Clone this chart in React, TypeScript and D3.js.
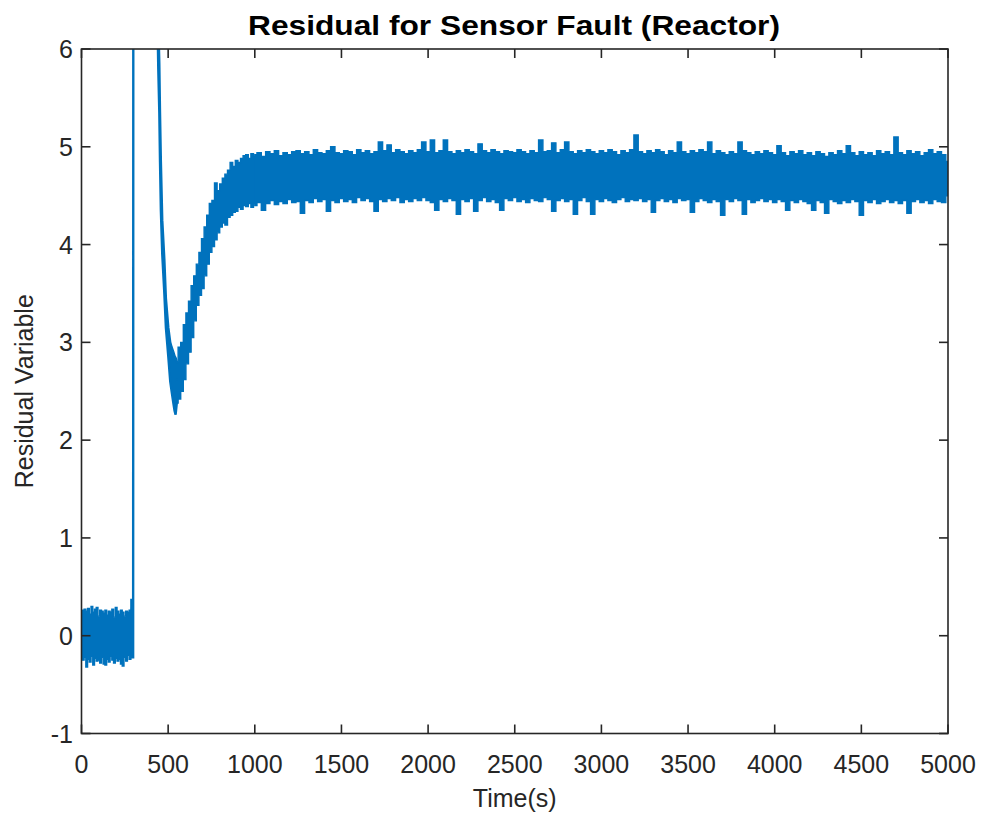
import React from "react";
import * as d3 from "d3";

const W = 983;
const H = 819;
const LINE = "#0072BD";
const AXIS = "#262626";
const FONT = "'Liberation Sans', Arial, Helvetica, sans-serif";

const titleText = "Residual for Sensor Fault (Reactor)";
const xLabel = "Time(s)";
const yLabel = "Residual Variable";
const xTicks = [0, 500, 1000, 1500, 2000, 2500, 3000, 3500, 4000, 4500, 5000];
const yTicks = [-1, 0, 1, 2, 3, 4, 5, 6];

// Segment A: pre-fault noise (0–290 s, every 10 s) — envelope
const noiseTime = [0, 10, 20, 30, 40, 50, 60, 70, 80, 90, 100, 110, 120, 130, 140, 150, 160, 170, 180, 190, 200, 210, 220, 230, 240, 250, 260, 270, 280, 290];
const noiseUpper = [0.08, 0.26, 0.27, 0.25, 0.28, 0.22, 0.3, 0.24, 0.27, 0.29, 0.2, 0.26, 0.25, 0.23, 0.26, 0.21, 0.25, 0.24, 0.27, 0.19, 0.29, 0.25, 0.22, 0.26, 0.24, 0.2, 0.25, 0.24, 0.26, 0.37];
const noiseLower = [-0.12, -0.25, -0.22, -0.32, -0.24, -0.27, -0.21, -0.3, -0.23, -0.26, -0.25, -0.28, -0.22, -0.29, -0.3, -0.24, -0.27, -0.21, -0.25, -0.28, -0.23, -0.26, -0.24, -0.29, -0.31, -0.22, -0.26, -0.2, -0.24, -0.22];

// Segment B: fault spike, descent and valley
const transTime = [290, 298, 300, 370, 443, 449, 453, 458, 466, 478, 487, 501, 512, 520, 530, 537, 543, 550];
const transUpper = [0.26, 0.37, 14, 14, 6.3, 5.85, 5.35, 4.85, 4.25, 3.85, 3.45, 3.15, 3.0, 2.95, 2.9, 2.86, 2.84, 2.8];
const transLower = [-0.22, -0.22, 13.8, 13.8, 5.8, 5.35, 4.85, 4.35, 3.9, 3.5, 3.15, 2.85, 2.6, 2.5, 2.38, 2.3, 2.26, 2.38];

// Segment C: recovery (550–1000 s, every 15 s)
const riseTime = [550, 565, 580, 595, 610, 625, 640, 655, 670, 685, 700, 715, 730, 745, 760, 775, 790, 805, 820, 835, 850, 865, 880, 895, 910, 925, 940, 955, 970, 985, 1000];
const riseUpper = [2.8, 2.95, 3.0, 3.18, 3.3, 3.42, 3.58, 3.68, 3.8, 3.92, 4.06, 4.18, 4.3, 4.42, 4.45, 4.63, 4.55, 4.62, 4.68, 4.72, 4.76, 4.84, 4.8, 4.86, 4.84, 4.88, 4.91, 4.92, 4.88, 4.93, 4.9];
const riseLower = [2.38, 2.42, 2.5, 2.62, 2.78, 2.9, 3.05, 3.22, 3.38, 3.48, 3.55, 3.68, 3.8, 3.92, 3.98, 4.05, 4.12, 4.18, 4.22, 4.2, 4.28, 4.3, 4.33, 4.34, 4.38, 4.36, 4.4, 4.39, 4.42, 4.38, 4.42];

// Segment D: steady state (1000–5000 s, every 25 s)
const steadyTime = d3.range(1000, 5001, 25);
const steadyUpper = [
  4.92, 4.94, 4.9, 4.95, 4.93, 4.96, 4.91, 4.94, 4.92, 4.95,
  4.96, 4.93, 4.95, 4.92, 4.97, 4.94, 4.93, 4.96, 5.0, 4.94,
  4.93, 4.96, 4.95, 4.92, 4.97, 4.94, 4.96, 4.93, 4.95, 5.05,
  4.96, 5.02, 4.94, 4.97, 4.95, 4.93, 4.96, 4.94, 4.97, 5.05,
  4.95, 5.07, 4.94, 4.96, 5.07, 4.95, 4.93, 4.96, 4.94, 4.97,
  4.95, 4.93, 5.03, 4.96, 4.94, 4.97, 4.95, 4.93, 4.96, 4.95,
  4.94, 4.97, 4.95, 4.93, 4.96, 4.94, 5.07, 4.95, 4.96, 5.04,
  4.94, 4.97, 5.05, 4.95, 4.93, 4.96, 4.94, 4.97, 4.95, 4.93,
  4.96, 4.94, 4.97, 4.95, 4.92, 4.96, 4.94, 4.97, 5.12, 4.95,
  4.93, 4.96, 4.94, 4.97, 4.95, 4.92, 4.96, 4.94, 5.05, 4.95,
  4.93, 4.96, 4.94, 4.97, 4.95, 5.05, 4.93, 4.96, 4.94, 4.92,
  4.95, 4.93, 5.05, 4.96, 4.94, 4.92, 4.95, 4.93, 4.96, 4.94,
  4.92, 5.01, 4.94, 4.91, 4.95, 4.93, 4.96, 4.92, 4.94, 4.91,
  4.95, 4.93, 4.9, 4.94, 4.92, 4.96, 4.93, 5.01, 4.94, 4.91,
  4.95, 4.92, 4.94, 4.91, 4.96, 4.93, 4.95, 4.92, 5.1, 4.94,
  4.92, 4.96, 4.93, 4.95, 4.91, 4.94, 4.97, 4.93, 4.95, 4.92, 4.85,
];
const steadyLower = [
  4.4, 4.43, 4.35, 4.42, 4.45, 4.41, 4.44, 4.42, 4.46, 4.43,
  4.44, 4.32, 4.45, 4.43, 4.47, 4.44, 4.46, 4.34, 4.45, 4.43,
  4.47, 4.44, 4.46, 4.43, 4.48, 4.45, 4.47, 4.44, 4.34, 4.46,
  4.44, 4.47, 4.45, 4.48, 4.43, 4.46, 4.44, 4.47, 4.45, 4.48,
  4.45, 4.43, 4.35, 4.46, 4.44, 4.47, 4.45, 4.31, 4.46, 4.44,
  4.47, 4.34, 4.45, 4.48, 4.44, 4.46, 4.43, 4.35, 4.47, 4.45,
  4.48, 4.44, 4.46, 4.43, 4.47, 4.45, 4.44, 4.48, 4.46, 4.34,
  4.45, 4.47, 4.44, 4.46, 4.31, 4.45, 4.48, 4.44, 4.31, 4.46,
  4.44, 4.47, 4.45, 4.43, 4.46, 4.48, 4.44, 4.46, 4.45, 4.47,
  4.44, 4.46, 4.33, 4.45, 4.47, 4.44, 4.46, 4.43, 4.47, 4.45,
  4.46, 4.33, 4.44, 4.47, 4.45, 4.43, 4.46, 4.44, 4.3, 4.46,
  4.44, 4.47, 4.45, 4.31, 4.46, 4.43, 4.45, 4.47, 4.44, 4.46,
  4.43, 4.46, 4.44, 4.35, 4.45, 4.43, 4.46, 4.44, 4.42, 4.35,
  4.45, 4.43, 4.32, 4.46, 4.44, 4.42, 4.45, 4.43, 4.46, 4.44,
  4.3, 4.45, 4.43, 4.46, 4.42, 4.44, 4.46, 4.43, 4.45, 4.42,
  4.45, 4.32, 4.44, 4.46, 4.43, 4.45, 4.42, 4.46, 4.44, 4.43, 4.5,
];

const M = { left: 81.5, right: 948, top: 49, bottom: 733.5 };
const x = d3.scaleLinear().domain([0, 5000]).range([M.left, M.right]);
const y = d3.scaleLinear().domain([-1, 6]).range([M.bottom, M.top]);

type Seg = { t: number[]; u: number[]; l: number[]; curve: d3.CurveFactory; sw: number };
const segments: Seg[] = [
  { t: noiseTime, u: noiseUpper, l: noiseLower, curve: d3.curveStep, sw: 1.4 },
  { t: transTime, u: transUpper, l: transLower, curve: d3.curveLinear, sw: 2.4 },
  { t: riseTime, u: riseUpper, l: riseLower, curve: d3.curveStep, sw: 1.4 },
  { t: steadyTime, u: steadyUpper, l: steadyLower, curve: d3.curveStep, sw: 1.4 },
];

function bandPath(s: Seg): string {
  const idx = s.t.map((_, i) => i);
  const gen = d3
    .area<number>()
    .x((i) => x(s.t[i]))
    .y0((i) => y(s.l[i]))
    .y1((i) => y(s.u[i]))
    .curve(s.curve);
  return gen(idx) || "";
}

export default function App() {
  const tickLen = 9;
  const fs = 25;
  return (
    <svg
      width={W}
      height={H}
      viewBox={`0 0 ${W} ${H}`}
      style={{ position: "absolute", left: 0, top: 0, background: "#fff" }}
    >
      <rect x={0} y={0} width={W} height={H} fill="#fff" />
      <defs>
        <clipPath id="plotClip">
          <rect x={M.left} y={M.top} width={M.right - M.left} height={M.bottom - M.top} />
        </clipPath>
      </defs>

      <g clipPath="url(#plotClip)">
        {segments.map((s, i) => (
          <path
            key={i}
            d={bandPath(s)}
            fill={LINE}
            stroke={LINE}
            strokeWidth={s.sw}
            strokeLinejoin="miter"
          />
        ))}
      </g>

      {/* axes box */}
      <rect
        x={M.left}
        y={M.top}
        width={M.right - M.left}
        height={M.bottom - M.top}
        fill="none"
        stroke={AXIS}
        strokeWidth={1.6}
      />
      {xTicks.map((t) => (
        <g key={"xt" + t}>
          <line x1={x(t)} x2={x(t)} y1={M.bottom} y2={M.bottom - tickLen} stroke={AXIS} strokeWidth={1.6} />
          <line x1={x(t)} x2={x(t)} y1={M.top} y2={M.top + tickLen} stroke={AXIS} strokeWidth={1.6} />
          <text
            x={x(t)}
            y={772.5}
            textAnchor="middle"
            fontFamily={FONT}
            fontSize={fs}
            fill={AXIS}
          >
            {t}
          </text>
        </g>
      ))}
      {yTicks.map((v) => (
        <g key={"yt" + v}>
          <line x1={M.left} x2={M.left + tickLen} y1={y(v)} y2={y(v)} stroke={AXIS} strokeWidth={1.6} />
          <line x1={M.right} x2={M.right - tickLen} y1={y(v)} y2={y(v)} stroke={AXIS} strokeWidth={1.6} />
          <text
            x={73}
            y={y(v) + 9}
            textAnchor="end"
            fontFamily={FONT}
            fontSize={fs}
            fill={AXIS}
          >
            {v}
          </text>
        </g>
      ))}

      <text
        x={(M.left + M.right) / 2}
        y={807}
        textAnchor="middle"
        fontFamily={FONT}
        fontSize={fs}
        fill={AXIS}
      >
        {xLabel}
      </text>
      <text
        transform={`translate(33, ${(M.top + M.bottom) / 2}) rotate(-90)`}
        textAnchor="middle"
        fontFamily={FONT}
        fontSize={fs}
        fill={AXIS}
      >
        {yLabel}
      </text>
      <text
        x={248}
        y={34.5}
        fontFamily={FONT}
        fontSize={28}
        fontWeight="bold"
        fill="#000"
        textLength={532}
        lengthAdjust="spacingAndGlyphs"
      >
        {titleText}
      </text>
    </svg>
  );
}
